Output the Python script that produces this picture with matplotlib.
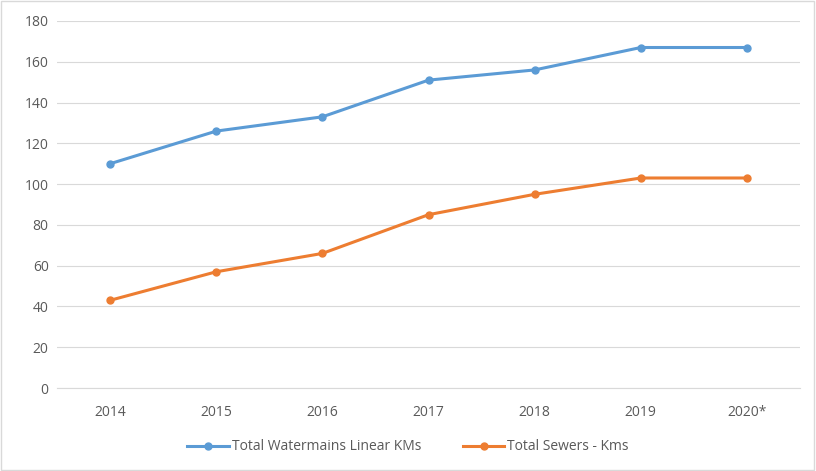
import matplotlib
matplotlib.use("Agg")
import matplotlib.pyplot as plt

years = ["2014", "2015", "2016", "2017", "2018", "2019", "2020*"]
watermains = [110, 126, 133, 151, 156, 167, 167]
sewers = [43, 57, 66, 85, 95, 103, 103]
yticks = [0, 20, 40, 60, 80, 100, 120, 140, 160, 180]

plt.rcParams['font.family'] = ['Open Sans', 'DejaVu Sans']
fig = plt.figure(figsize=(8.16, 4.71), dpi=100)
ax = fig.add_axes([57/816, 1 - 388/471, (800-57)/816, (388-21)/471])
x = list(range(len(years)))
ax.plot(x, watermains, color='#5B9BD5', lw=2.2, marker='o', ms=5, label='Total Watermains Linear KMs')
ax.plot(x, sewers, color='#ED7D31', lw=2.2, marker='o', ms=5, label='Total Sewers - Kms')
ax.set_xlim(-0.5, len(years) - 0.5)
ax.set_ylim(0, 180)
ax.set_yticks(yticks)
ax.set_xticks(x)
ax.set_xticklabels(years)
ax.grid(axis='y', color='#D9D9D9', lw=0.8)
ax.set_axisbelow(True)
for s in ['top', 'right', 'left']:
    ax.spines[s].set_visible(False)
ax.spines['bottom'].set_color('#D9D9D9')
ax.tick_params(axis='both', length=0, labelsize=10, colors='#595959')
ax.tick_params(axis='x', pad=12)
ax.tick_params(axis='y', pad=6)
fig.legend(loc='center', bbox_to_anchor=(0.5, 1 - 447/471), ncol=2, frameon=False,
           fontsize=10, labelcolor='#595959', handlelength=3.0, handletextpad=0.2,
           columnspacing=3.0)
border = plt.Rectangle((0.001, 0.002), 0.997, 0.995, transform=fig.transFigure,
                       fill=False, edgecolor='#D9D9D9', lw=1)
fig.patches.append(border)
fig.savefig('out.png', dpi=100)
